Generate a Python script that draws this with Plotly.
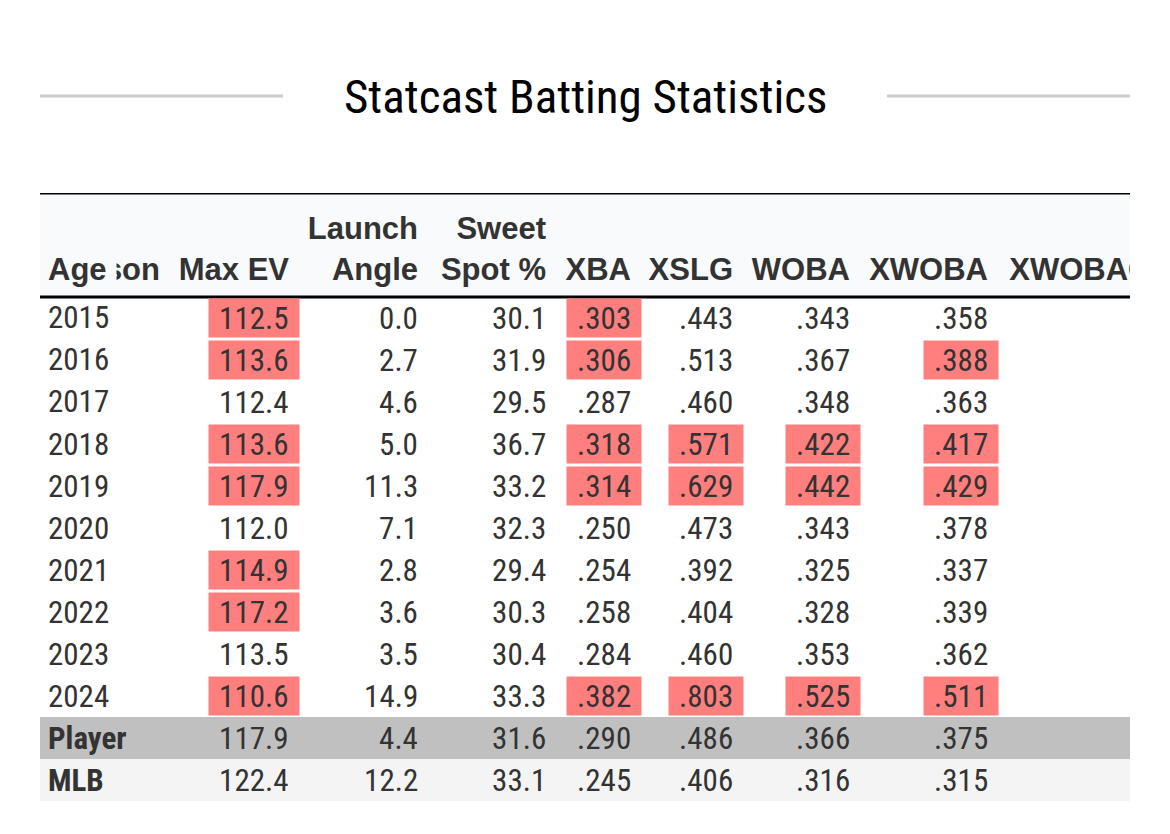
import plotly.graph_objects as go

# ---------------- data ----------------
seasons = ["2015", "2016", "2017", "2018", "2019", "2020", "2021", "2022", "2023", "2024", "Player", "MLB"]
max_ev = [112.5, 113.6, 112.4, 113.6, 117.9, 112.0, 114.9, 117.2, 113.5, 110.6, 117.9, 122.4]
launch_angle = [0.0, 2.7, 4.6, 5.0, 11.3, 7.1, 2.8, 3.6, 3.5, 14.9, 4.4, 12.2]
sweet_spot = [30.1, 31.9, 29.5, 36.7, 33.2, 32.3, 29.4, 30.3, 30.4, 33.3, 31.6, 33.1]
xba = [.303, .306, .287, .318, .314, .250, .254, .258, .284, .382, .290, .245]
xslg = [.443, .513, .460, .571, .629, .473, .392, .404, .460, .803, .486, .406]
woba = [.343, .367, .348, .422, .442, .343, .325, .328, .353, .525, .366, .316]
xwoba = [.358, .388, .363, .417, .429, .378, .337, .339, .362, .511, .375, .315]

max_ev_hl = [1, 1, 0, 1, 1, 0, 1, 1, 0, 1, 0, 0]
launch_angle_hl = [0] * 12
sweet_spot_hl = [0] * 12
xba_hl = [1, 1, 0, 1, 1, 0, 0, 0, 0, 1, 0, 0]
xslg_hl = [0, 0, 0, 1, 1, 0, 0, 0, 0, 1, 0, 0]
woba_hl = [0, 0, 0, 1, 1, 0, 0, 0, 0, 1, 0, 0]
xwoba_hl = [0, 1, 0, 1, 1, 0, 0, 0, 0, 1, 0, 0]

header_line1 = ["", "", "Launch", "Sweet", "", "", "", "", ""]
header_line2 = ["Season", "Max EV", "Angle", "Spot %", "XBA", "XSLG", "WOBA", "XWOBA", "XWOBACON"]

title = "Statcast Batting Statistics"

# ---------------- layout constants ----------------
col_right = [120, 249, 378, 506, 591, 693, 810, 948, 1157]   # right edge of each column's text (x units)
season_left = 6
header_top = -2.976
n_rows = len(seasons)

CELL_FONT = "Liberation Sans Narrow, Roboto Condensed, Arial Narrow, sans-serif"
HEAD_FONT = "Liberation Sans, Arial, Helvetica, sans-serif"
TXT = "#333333"
HL = "#ff7f7f"
HEAD_BG = "#f9fafc"
CELL_SIZE = 31
HEAD_SIZE = 31

fig = go.Figure()

# header text (clipped by plot area like the original)
hx = col_right
fig.add_trace(go.Scatter(x=hx, y=[-2.07] * len(hx), mode="text", text=header_line1,
                         textposition="middle left", cliponaxis=True, hoverinfo="skip",
                         textfont=dict(family=HEAD_FONT, size=HEAD_SIZE, color=TXT, weight="bold")))
fig.add_trace(go.Scatter(x=hx, y=[-1.10] * len(hx), mode="text", text=header_line2,
                         textposition="middle left", cliponaxis=True, hoverinfo="skip",
                         textfont=dict(family=HEAD_FONT, size=HEAD_SIZE, color=TXT, weight="bold")))

annotations = []
# sticky "Age" header covering part of "Season"
annotations.append(dict(x=season_left + 1, y=-1.15, xref="x", yref="y", text="<b>Age</b>",
                        showarrow=False, xanchor="left", yanchor="middle", align="left",
                        width=68, bgcolor=HEAD_BG, borderpad=0,
                        font=dict(family=HEAD_FONT, size=HEAD_SIZE, color=TXT)))

# first column
for i, s in enumerate(seasons):
    bold = s in ("Player", "MLB")
    annotations.append(dict(x=season_left, y=i, xref="x", yref="y",
                            text=f"<b>{s}</b>" if bold else s, showarrow=False,
                            xanchor="left", yanchor="middle",
                            font=dict(family=CELL_FONT, size=CELL_SIZE, color=TXT)))

cols = [(max_ev, max_ev_hl, "1f"), (launch_angle, launch_angle_hl, "1f"),
        (sweet_spot, sweet_spot_hl, "1f"), (xba, xba_hl, "3f"), (xslg, xslg_hl, "3f"),
        (woba, woba_hl, "3f"), (xwoba, xwoba_hl, "3f")]
NB = "\u00a0"
for j, (vals, hls, fmt) in enumerate(cols):
    xr = col_right[j + 1]
    for i, v in enumerate(vals):
        if fmt == "1f":
            t = f"{v:.1f}"
        else:
            t = f"{v:.3f}".lstrip("0")
        annotations.append(dict(x=xr, y=i, xref="x", yref="y", text=NB + t + NB,
                                showarrow=False, xanchor="right", yanchor="middle",
                                xshift=11, height=32, borderpad=3,
                                bgcolor=HL if hls[i] else "rgba(0,0,0,0)",
                                font=dict(family=CELL_FONT, size=CELL_SIZE, color=TXT)))

# title
annotations.append(dict(x=0.5, y=1.1595, xref="paper", yref="paper", text=title,
                        showarrow=False, xanchor="center", yanchor="middle",
                        font=dict(family=CELL_FONT, size=47, color="#000000")))

shapes = [
    # header background
    dict(type="rect", xref="paper", yref="y", x0=0, x1=1, y0=header_top, y1=-0.5,
         fillcolor=HEAD_BG, line=dict(width=0), layer="below"),
    # player / MLB rows
    dict(type="rect", xref="paper", yref="y", x0=0, x1=1, y0=n_rows - 2.5, y1=n_rows - 1.5,
         fillcolor="#c0c0c0", line=dict(width=0), layer="below"),
    dict(type="rect", xref="paper", yref="y", x0=0, x1=1, y0=n_rows - 1.5, y1=n_rows - 0.5,
         fillcolor="#f4f4f4", line=dict(width=0), layer="below"),
    # borders
    dict(type="line", xref="paper", yref="y", x0=0, x1=1, y0=header_top, y1=header_top,
         line=dict(color="#000000", width=3)),
    dict(type="line", xref="paper", yref="y", x0=0, x1=1, y0=-0.5, y1=-0.5,
         line=dict(color="#000000", width=3)),
    # title rules
    dict(type="line", xref="paper", yref="paper", x0=0, x1=0.2229, y0=1.1595, y1=1.1595,
         line=dict(color="#cccccc", width=3)),
    dict(type="line", xref="paper", yref="paper", x0=0.777, x1=1, y0=1.1595, y1=1.1595,
         line=dict(color="#cccccc", width=3)),
]

fig.update_layout(
    width=1170, height=834,
    margin=dict(l=32, r=48, t=185, b=41),
    paper_bgcolor="#ffffff", plot_bgcolor="#ffffff",
    showlegend=False,
    xaxis=dict(range=[0, 1090], visible=False, fixedrange=True),
    yaxis=dict(range=[n_rows - 0.5, header_top], visible=False, fixedrange=True),
    annotations=annotations, shapes=shapes,
)

fig.write_html("out.html")
